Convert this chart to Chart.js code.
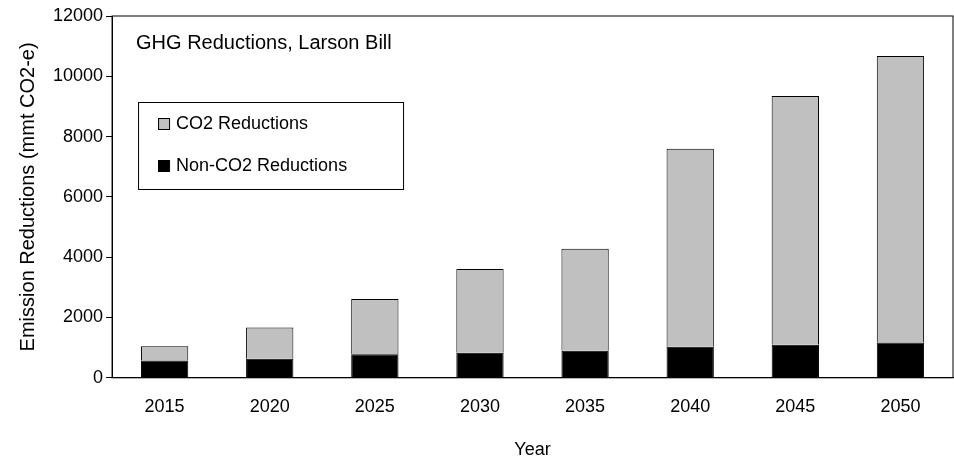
<!DOCTYPE html>
<html>
<head>
<script src="https://cdn.jsdelivr.net/npm/chart.js@4"></script>
<style>
  body { margin: 0; background: #fff; }
  #wrap { width: 954px; height: 461px; }
</style>
</head>
<body>
<div id="wrap"><canvas id="chart"></canvas></div>
<script>
const years = ["2015", "2020", "2025", "2030", "2035", "2040", "2045", "2050"];
const nonCo2 = [570, 630, 780, 830, 900, 1030, 1100, 1170];
const co2 = [480, 1040, 1830, 2780, 3380, 6570, 8250, 9500];

const FONT = "Arial, 'Liberation Sans'";

// draws the legend box and title inside the plot area, like the original
const insideText = {
  id: "insideText",
  afterDraw(chart) {
    const ctx = chart.ctx;
    const area = chart.chartArea;
    ctx.save();
    ctx.font = "20px " + FONT;
    ctx.fillStyle = "#000";
    ctx.textBaseline = "middle";
    ctx.fillText("GHG Reductions, Larson Bill", area.left + 24, area.top + 27);

    const bx = area.left + 26, by = area.top + 86, bw = 265, bh = 87;
    ctx.fillStyle = "#fff";
    ctx.strokeStyle = "#000";
    ctx.lineWidth = 1;
    ctx.fillRect(bx, by, bw, bh);
    ctx.strokeRect(bx + 0.5, by + 0.5, bw, bh);
    ctx.font = "18px " + FONT;
    const items = [["CO2 Reductions", "#c0c0c0"], ["Non-CO2 Reductions", "#000"]];
    items.forEach((it, i) => {
      const y = by + 22 + i * 42;
      ctx.fillStyle = it[1];
      ctx.fillRect(bx + 20, y - 6, 11, 11);
      ctx.strokeRect(bx + 20.5, y - 5.5, 11, 11);
      ctx.fillStyle = "#000";
      ctx.fillText(it[0], bx + 38, y);
    });
    ctx.restore();
  }
};

new Chart(document.getElementById("chart"), {
  type: "bar",
  data: {
    labels: years,
    datasets: [
      { label: "Non-CO2 Reductions", data: nonCo2, backgroundColor: "#000", borderColor: "#000", borderWidth: 1 },
      { label: "CO2 Reductions", data: co2, backgroundColor: "#c0c0c0", borderColor: "#000", borderWidth: 1 }
    ]
  },
  options: {
    responsive: true,
    maintainAspectRatio: false,
    animation: false,
    layout: { padding: { top: 16, right: 1, left: 12, bottom: 0 } },
    datasets: { bar: { categoryPercentage: 1, barPercentage: 0.45 } },
    plugins: { legend: { display: false }, tooltip: { enabled: false } },
    scales: {
      x: {
        stacked: true,
        border: { color: "#000" },
        grid: { display: false },
        ticks: { color: "#000", font: { size: 18, family: FONT }, padding: 10 },
        title: { display: true, text: "Year", color: "#000", font: { size: 18, family: FONT }, padding: { top: 12, bottom: 0 } }
      },
      y: {
        stacked: true,
        min: 0, max: 12000,
        border: { color: "#000" },
        grid: { drawOnChartArea: false, color: "#000", tickLength: 6 },
        ticks: { stepSize: 2000, color: "#000", font: { size: 18, family: FONT }, callback: v => String(v) },
        title: { display: true, text: "Emission Reductions (mmt CO2-e)", color: "#000", font: { size: 20, family: FONT }, padding: { bottom: 10 } }
      }
    }
  },
  plugins: [insideText, {
    id: "frame",
    afterDraw(chart) {
      const a = chart.chartArea, ctx = chart.ctx;
      ctx.save();
      ctx.strokeStyle = "#000";
      ctx.strokeRect(a.left, a.top, a.right - a.left, a.bottom - a.top);
      ctx.restore();
    }
  }]
});
</script>
</body>
</html>
